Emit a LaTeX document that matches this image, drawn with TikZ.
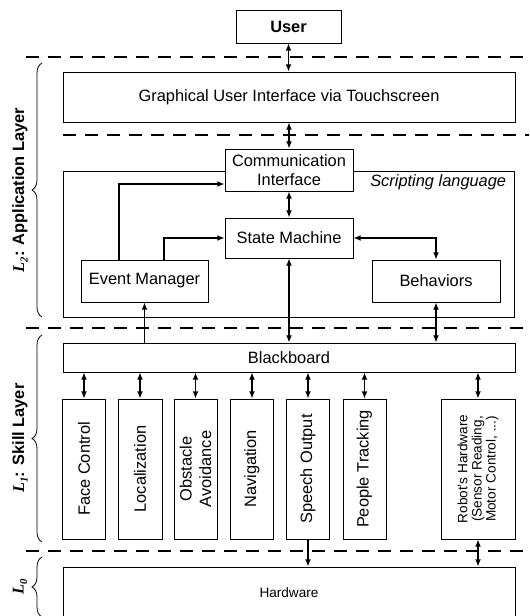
\documentclass[tikz,border=0pt]{standalone}
\usepackage{fontspec}
\setmainfont{Liberation Sans}
\newfontfamily\lserif{Liberation Serif}
\usetikzlibrary{arrows.meta,calc,decorations.pathreplacing}
\tikzset{
  bw/.style={minimum width=#1*0.75pt},
  bh/.style={minimum height=#1*0.75pt},
  box/.style={draw, line width=0.6pt, fill=white, inner sep=0pt, align=center, font=\fontsize{12.3}{14.5}\selectfont},
  vtext/.style={rotate=90, align=center, inner sep=0pt, font=\fontsize{12.3}{14.5}\selectfont},
  arr/.style={line width=1.3pt, -{Latex[length=5.5pt,width=4.5pt]}},
  darr/.style={line width=1.3pt, {Latex[length=5.5pt,width=4.5pt]}-{Latex[length=5.5pt,width=4.5pt]}},
  sep/.style={line width=1.5pt, dash pattern=on 10pt off 6.5pt},
  brc/.style={decorate, decoration={brace, amplitude=7.5pt}, line width=0.6pt},
  lay/.style={rotate=90, inner sep=0pt, font=\fontsize{12.3}{14}\selectfont\bfseries},
}
\newcommand\lsub[2]{{\lserif\bfseries\itshape #1\raisebox{-0.45ex}{\fontsize{8}{8}\selectfont #2}}}
\begin{document}
\begin{tikzpicture}[x=0.75pt,y=-0.75pt]
\clip (0,0) rectangle (529,616);
% separators
\draw[sep] (26,57) -- (535,57);
\draw[sep] (63,135) -- (535,135);
\draw[sep] (26,328) -- (535,328);
\draw[sep] (26,551) -- (535,551);
% application layer
\node[box, bw=105, bh=33, font=\fontsize{12.3}{14}\selectfont\bfseries] (user) at (288.5,26.5) {User};
\node[box, bw=452, bh=50] (gui) at (289,97) {Graphical User Interface via Touchscreen};
\node[box, bw=451, bh=146] (script) at (288.5,244) {};
\node[anchor=east, inner sep=0pt, font=\fontsize{12.3}{14}\selectfont\itshape] (sl) at ($(script.north east)+(-8,12)$) {Scripting language};
\node[box, bw=128, bh=42] (comm) at (289,170) {Communication\\Interface};
\node[box, bw=128, bh=40] (sm) at (289,238) {State Machine};
\node[box, bw=127, bh=42] (em) at (144.5,281) {Event Manager};
\node[box, bw=128, bh=42] (beh) at (436,281) {Behaviors};
% skill layer
\node[box, bw=452, bh=29] (bb) at (289,357.5) {Blackboard};
\node[box, bw=43, bh=140] (fc) at (84,469) {};
\node[box, bw=44, bh=140] (loc) at (140,469) {};
\node[box, bw=43, bh=140] (obs) at (195.5,469) {};
\node[box, bw=43, bh=140] (nav) at (252,469) {};
\node[box, bw=43, bh=140] (so) at (308,469) {};
\node[box, bw=43, bh=140] (pt) at (364.5,469) {};
\node[box, bw=74, bh=140] (rh) at (478,469) {};
\node[vtext] (fct) at (fc) {Face Control};
\node[vtext] (loct) at (loc) {Localization};
\node[vtext] (obst) at (obs) {Obstacle\\Avoidance};
\node[vtext] (navt) at (nav) {Navigation};
\node[vtext] (sot) at (so) {Speech Output};
\node[vtext] (ptt) at (pt) {People Tracking};
\node[vtext, font=\fontsize{10.2}{10.6}\selectfont] (rht) at (rh) {Robot's Hardware\\(Sensor Reading,\\Motor Control, ...)};
% hardware
\node[box, bw=452, bh=52, font=\fontsize{10.2}{12}\selectfont] (hw) at (289,593) {Hardware};
% connectors
\draw[darr] (user.south) -- (user.south |- gui.north);
\draw[darr] (gui.south) -- (gui.south |- comm.north);
\draw[darr] (comm.south) -- (sm.north);
\draw[arr] ($(em.north)+(-25.5,0)$) |- ($(comm.west)+(0,14)$);
\draw[arr] ($(em.north)+(19.5,0)$) |- (sm.west);
\draw[darr] (sm.east) -| (beh.north);
\draw[arr] (em.south |- bb.north) -- (em.south);
\draw[darr] (sm.south) -- (sm.south |- bb.north);
\draw[darr] (beh.south) -- (beh.south |- bb.north);
\foreach \n in {fc,loc,obs,nav,so,pt,rh} \draw[darr] (bb.south -| \n.north) -- (\n.north);
\draw[arr] (so.south) -- (so.south |- hw.north);
\draw[darr] (rh.south) -- (rh.south |- hw.north);
% layer braces and labels
\draw[brc] (42,317) -- (42,63);
\draw[brc] (42,542) -- (42,335);
\draw[brc] (42,617) -- (42,557);
\node[lay] (l2) at (20,190) {\lsub{L}{2}: Application Layer};
\node[lay] (l1) at (20,438) {\lsub{L}{1}: Skill Layer};
\node[lay] (l0) at (20,587) {\lsub{L}{0}};
\end{tikzpicture}
\end{document}
